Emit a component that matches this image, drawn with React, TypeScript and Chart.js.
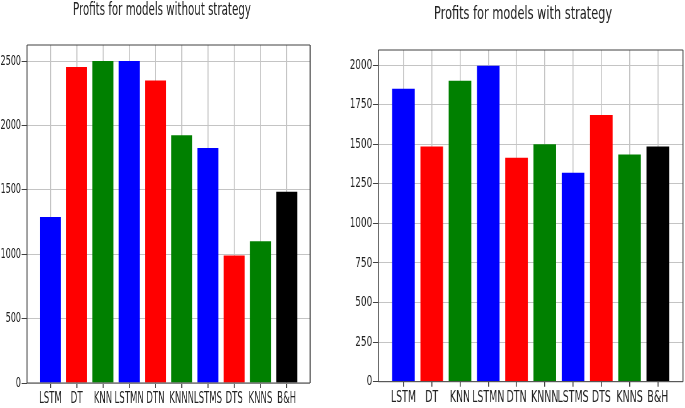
import React, { useEffect, useRef } from "react";
import { Chart, registerables } from "chart.js";

Chart.register(...registerables);

const categories = ["LSTM", "DT", "KNN", "LSTMN", "DTN", "KNNN", "LSTMS", "DTS", "KNNS", "B&H"];
const profitsWithout = [1290, 2455, 2500, 2500, 2350, 1925, 1825, 990, 1100, 1485];
const profitsWith = [1850, 1485, 1900, 1995, 1415, 1500, 1320, 1685, 1435, 1485];
const barColors = ["#0000ff", "#ff0000", "#008000", "#0000ff", "#ff0000", "#008000", "#0000ff", "#ff0000", "#008000", "#000000"];
const titleWithout = "Profits for models without strategy";
const titleWith = "Profits for models with strategy";
const yTicksWithout = [0, 500, 1000, 1500, 2000, 2500];
const yTicksWith = [0, 250, 500, 750, 1000, 1250, 1500, 1750, 2000];
const yMaxWithout = 2625;
const yMaxWith = 2095;
const xMin = -0.89;
const xMax = 9.89;

const FONT = "'DejaVu Sans', sans-serif";

type Geom = {
  left: number; // css left of the panel
  sx: number; // horizontal squeeze
  width: number; // internal canvas width
  padR: number;
  yAxisW: number;
  top: number;
  xAxisH: number;
  titleX: number;
  titleY: number;
};

const framePlugin = {
  id: "frame",
  afterDraw(chart: any, _args: any, opts: any) {
    const { ctx, chartArea } = chart;
    const { left, right, top, bottom } = chartArea;
    ctx.save();
    ctx.strokeStyle = "#404040";
    ctx.lineWidth = 1;
    ctx.beginPath();
    ctx.moveTo(left, top);
    ctx.lineTo(right, top);
    ctx.moveTo(left, bottom);
    ctx.lineTo(right, bottom);
    ctx.stroke();
    ctx.lineWidth = 1 / opts.sx;
    ctx.beginPath();
    ctx.moveTo(left, top);
    ctx.lineTo(left, bottom);
    ctx.moveTo(right, top);
    ctx.lineTo(right, bottom);
    ctx.stroke();
    ctx.restore();
  },
};

const titlePlugin = {
  id: "panelTitle",
  afterDraw(chart: any, _args: any, opts: any) {
    const { ctx } = chart;
    ctx.save();
    ctx.fillStyle = "#222";
    ctx.font = `18px ${FONT}`;
    ctx.textAlign = "center";
    ctx.textBaseline = "middle";
    ctx.fillText(opts.text, opts.x, opts.y);
    ctx.restore();
  },
};

function BarPanel(props: { values: number[]; yMax: number; yTicks: number[]; title: string; geom: Geom }) {
  const ref = useRef<HTMLCanvasElement | null>(null);
  const { values, yMax, yTicks, title, geom } = props;
  useEffect(() => {
    if (!ref.current) return;
    const sx = geom.sx;
    const chart = new Chart(ref.current, {
      type: "bar",
      data: {
        datasets: [
          {
            data: categories.map((_, i) => ({ x: i, y: values[i] })) as any,
            backgroundColor: barColors,
            borderWidth: 0,
            categoryPercentage: 1,
            barPercentage: 0.8,
          },
        ],
      },
      options: {
        responsive: false,
        animation: false,
        devicePixelRatio: 1,
        layout: { padding: { left: 0, right: geom.padR, top: geom.top, bottom: 0 } },
        plugins: {
          legend: { display: false },
          tooltip: { enabled: false },
          title: { display: false },
          frame: { sx },
          panelTitle: { text: title, x: geom.titleX, y: geom.titleY },
        } as any,
        scales: {
          x: {
            type: "linear",
            min: xMin,
            max: xMax,
            offset: false,
            afterBuildTicks: (scale: any) => {
              scale.ticks = categories.map((_, i) => ({ value: i }));
            },
            afterFit: (scale: any) => {
              scale.height = geom.xAxisH;
            },
            border: { display: false },
            grid: {
              offset: false,
              color: "#c4c4c4",
              lineWidth: 1 / sx,
              tickColor: "#404040",
              tickWidth: 1 / sx,
              tickLength: 5,
            },
            ticks: {
              autoSkip: false,
              maxRotation: 0,
              minRotation: 0,
              padding: 2,
              color: "#222",
              font: { family: FONT, size: 15 },
              callback: (v: any) => categories[Math.round(Number(v))] ?? "",
            },
          } as any,
          y: {
            type: "linear",
            min: 0,
            max: yMax,
            afterBuildTicks: (scale: any) => {
              scale.ticks = yTicks.map((v) => ({ value: v }));
            },
            afterFit: (scale: any) => {
              scale.width = geom.yAxisW;
            },
            border: { display: false },
            grid: {
              color: "#c4c4c4",
              lineWidth: 1,
              tickColor: "#404040",
              tickWidth: 1,
              tickLength: 5.5 / sx,
            },
            ticks: {
              autoSkip: false,
              padding: 1,
              color: "#222",
              font: { family: FONT, size: 14 },
              callback: (v: any) => String(v),
            },
          },
        },
      },
      plugins: [framePlugin, titlePlugin],
    });
    return () => chart.destroy();
  }, [values, yMax, yTicks, title, geom]);

  return (
    <div
      style={{
        position: "absolute",
        left: geom.left,
        top: 0,
        width: geom.width,
        height: 408,
        transform: `scaleX(${geom.sx})`,
        transformOrigin: "0 0",
      }}
    >
      <canvas ref={ref} width={geom.width} height={408} style={{ display: "block" }} />
    </div>
  );
}

const geomLeft: Geom = { left: 0, sx: 0.57, width: 582, padR: 38, yAxisW: 47.4, top: 45, xAxisH: 25, titleX: 284, titleY: 10.8 };
const geomRight: Geom = { left: 340, sx: 0.63, width: 548, padR: 3.6, yAxisW: 60.8, top: 50, xAxisH: 26.3, titleX: 290.5, titleY: 14.8 };

export default function App() {
  return (
    <div style={{ position: "fixed", left: 0, top: 0, width: 685, height: 408, overflow: "hidden", background: "#fff" }}>
      <BarPanel values={profitsWithout} yMax={yMaxWithout} yTicks={yTicksWithout} title={titleWithout} geom={geomLeft} />
      <BarPanel values={profitsWith} yMax={yMaxWith} yTicks={yTicksWith} title={titleWith} geom={geomRight} />
    </div>
  );
}
